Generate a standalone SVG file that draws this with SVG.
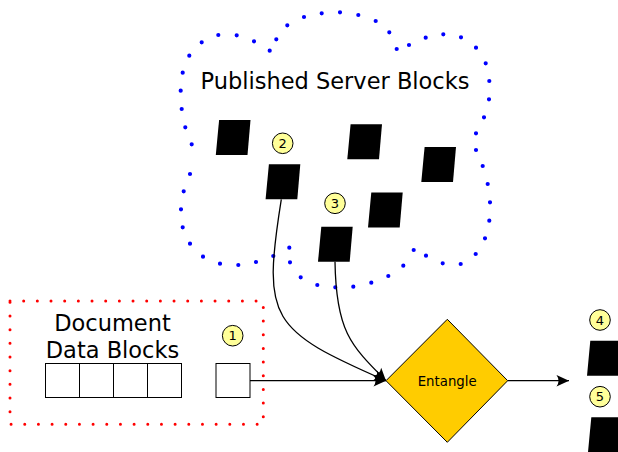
<svg xmlns="http://www.w3.org/2000/svg" width="618" height="452" viewBox="0 0 618 452">
  <style>
    .lbl { font-family: "DejaVu Sans", "Liberation Sans", sans-serif; fill: #000; text-anchor: middle; }
    .title { font-size: 22.5px; }
    .num { font-size: 13px; }
    .badge { fill: #ffff99; stroke: #000; stroke-width: 1; }
    .block { fill: #000; stroke: none; }
    .cell { fill: #fff; stroke: #000; stroke-width: 1; }
    .wire { fill: none; stroke: #000; stroke-width: 1.3; }
  </style>
  <defs>
    <marker id="arrow" viewBox="-13 -7 14 14" refX="0" refY="0" markerWidth="14" markerHeight="14" markerUnits="userSpaceOnUse" orient="auto">
      <path d="M0,0 L-12.5,-5.8 Q-8.5,0 -12.5,5.8 Z" fill="#000"/>
    </marker>
    <polygon id="blk" points="3.3,0 34.7,0 31.7,35 0,35"/>
  </defs>

  <!-- cloud of published server blocks (dotted outline) -->
  <g id="cloud">
    <path fill="none" stroke="#0000ff" stroke-width="4.2" stroke-linecap="round"
      d="M321.7,13.3h0 M340,12.3h0 M358.3,15h0 M375.7,21h0 M389.3,32.3h0 M396.7,49h0 M409,45h0 M425.7,37.7h0 M443.3,34.3h0 M461,37.3h0 M476,47.7h0 M485.7,63.3h0 M489.3,81h0 M489,99.3h0 M484,117.3h0 M476,133.3h0 M476,150h0 M482.7,166h0 M487.7,184h0 M490,202.3h0 M489.3,220.7h0 M485,238.3h0 M475.7,254h0 M460.7,264h0 M442.7,263.3h0 M426,255.7h0 M413.7,250h0 M403.3,265.7h0 M388.3,276h0 M371.3,282.7h0 M353.3,286.7h0 M335.3,287.3h0 M317.3,285h0 M300.7,277.3h0 M290,262.3h0 M289.3,247.7h0 M273.3,256h0 M256,262h0 M238.3,265h0 M220,263.7h0 M203,256.7h0 M190,243.7h0 M182.7,227.3h0 M181,209.3h0 M183.7,191.3h0 M190,174h0 M191.7,144.3h0 M185.3,127.3h0 M181.7,109h0 M180.7,90.7h0 M182.7,72.7h0 M189.3,55.7h0 M201.7,42.3h0 M218.3,35h0 M236.7,35.3h0 M254,41.3h0 M269.7,50.7h0 M276.3,39.3h0 M287.3,25.3h0 M304,17h0"/>
    <text class="lbl title" x="335" y="89.3">Published Server Blocks</text>
  </g>

  <!-- server blocks -->
  <g id="server-blocks">
    <use href="#blk" x="215.8" y="120"/>
    <use href="#blk" x="265.6" y="164.3"/>
    <use href="#blk" x="347.3" y="124.3"/>
    <use href="#blk" x="421.3" y="147"/>
    <use href="#blk" x="368" y="192.5"/>
    <use href="#blk" x="318" y="226.7"/>
  </g>

  <!-- document region (dotted outline) -->
  <g id="document">
    <rect x="10" y="301" width="253.3" height="123.3" fill="none" stroke="#ff0000" stroke-width="3" stroke-linecap="round" stroke-dasharray="0 13.67"/>
    <text class="lbl title" x="112.5" y="330.7">Document</text>
    <text class="lbl title" x="112.5" y="357.7">Data Blocks</text>
    <rect class="cell" x="45.5" y="363.5" width="34" height="34"/>
    <rect class="cell" x="79.5" y="363.5" width="34" height="34"/>
    <rect class="cell" x="113.5" y="363.5" width="34" height="34"/>
    <rect class="cell" x="147.5" y="363.5" width="34" height="34"/>
  </g>

  <g id="data-block">
    <rect class="cell" x="216" y="363.5" width="34" height="34"/>
  </g>

  <!-- connectors -->
  <g id="connectors">
    <path class="wire" d="M250,380.7 H386" marker-end="url(#arrow)"/>
    <path class="wire" d="M281.3,199.3 C262,320 270,330 386,380.7" marker-end="url(#arrow)"/>
    <path class="wire" d="M335,261.7 C336,330 350,345 386,380.7" marker-end="url(#arrow)"/>
    <path class="wire" d="M507.7,380.7 H569" marker-end="url(#arrow)"/>
  </g>

  <g id="entangle">
    <polygon points="386,380.7 447.3,319.3 507.7,380.7 447.3,442.3" fill="#ffcc00" stroke="#000" stroke-width="1"/>
    <text class="lbl" x="447.2" y="385.7" font-size="13.3">Entangle</text>
  </g>

  <!-- output blocks -->
  <g id="output-blocks">
    <use href="#blk" x="587" y="340.7"/>
    <use href="#blk" x="588" y="417.3"/>
  </g>

  <!-- numbered markers -->
  <g id="badge-1">
    <circle class="badge" cx="232.7" cy="335.7" r="10.3"/>
    <text class="lbl num" x="232.7" y="340.4">1</text>
  </g>
  <g id="badge-2">
    <circle class="badge" cx="282.7" cy="143.3" r="10.3"/>
    <text class="lbl num" x="282.7" y="148">2</text>
  </g>
  <g id="badge-3">
    <circle class="badge" cx="335" cy="203.3" r="10.3"/>
    <text class="lbl num" x="335" y="208">3</text>
  </g>
  <g id="badge-4">
    <circle class="badge" cx="600" cy="320" r="10.3"/>
    <text class="lbl num" x="600" y="324.7">4</text>
  </g>
  <g id="badge-5">
    <circle class="badge" cx="600" cy="396.7" r="10.3"/>
    <text class="lbl num" x="600" y="401.4">5</text>
  </g>
</svg>
